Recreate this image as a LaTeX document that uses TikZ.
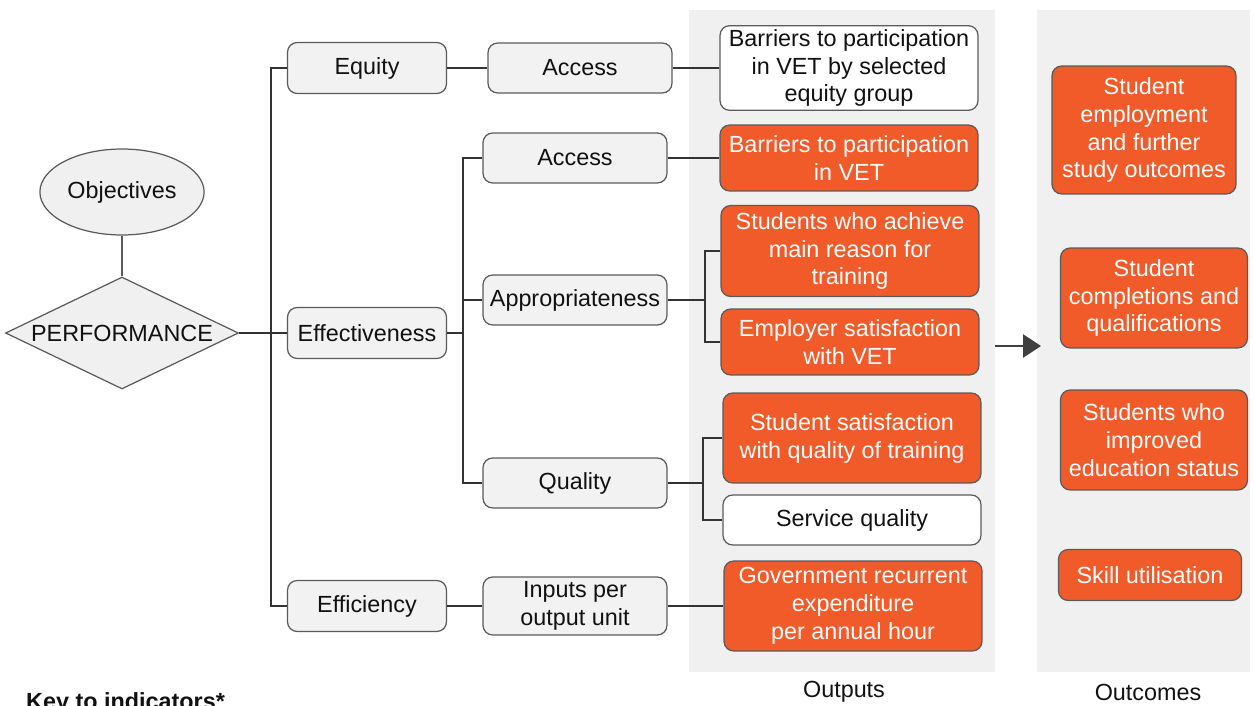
\documentclass[tikz,border=0pt]{standalone}
\usepackage{fontspec}
\setmainfont{Liberation Sans}
\usetikzlibrary{arrows.meta,positioning,calc,shapes.geometric}
\definecolor{Ink}{HTML}{111111}
\definecolor{Edge}{HTML}{5A5A5A}
\definecolor{Wire}{HTML}{333333}
\definecolor{Panel}{HTML}{F0F0F0}
\definecolor{Soft}{HTML}{F2F2F2}
\definecolor{Flame}{HTML}{F15A29}
\definecolor{Pointer}{HTML}{404040}
\tikzset{
  box/.style={draw=Edge,line width=0.7pt,rounded corners=5.5pt,align=center,inner sep=2pt,font=\fontsize{13.3}{15.9}\selectfont,text=Ink},
  graybox/.style={box,fill=Soft,minimum width=3.18cm,minimum height=1.02cm},
  midbox/.style={graybox,minimum width=3.68cm,minimum height=1cm},
  outbox/.style={box,fill=Flame,text=white,minimum width=5.16cm},
  whitebox/.style={box,fill=white,minimum width=5.16cm},
  endbox/.style={box,fill=Flame,text=white},
  panel/.style={fill=Panel,draw=none,minimum height=13.24cm},
  caption/.style={font=\fontsize{13.3}{15.9}\selectfont,text=Ink},
  link/.style={draw=Wire,line width=0.6pt},
  bigarrow/.style={-{Triangle[length=3.6mm,width=4.6mm]},line width=1.7pt,draw=Pointer}
}
\begin{document}
\begin{tikzpicture}[x=0.02cm,y=-0.02cm]
\useasboundingbox (0,0) rectangle (1254,706);
\node[panel,minimum width=6.12cm] (outpanel) at (842,341) {};
\node[panel,minimum width=4.26cm] (endpanel) at (1143.5,341) {};
\node[caption] (outlabel) at (844,692) {Outputs};
\node[caption] (endlabel) at (1148,692) {Outcomes};
\node[caption,font=\fontsize{13.3}{15.9}\selectfont\bfseries,anchor=west] (key) at (20,703) {Key to indicators*};

\node[box,ellipse,fill=Panel,minimum width=3.26cm,minimum height=1.72cm,rounded corners=0pt] (obj) at (122,192) {Objectives};
\node[box,diamond,fill=Panel,minimum width=4.66cm,minimum height=2.24cm,inner sep=0pt,aspect=2.08,rounded corners=0pt] (perf) at (122,333) {PERFORMANCE};

\node[graybox] (equity) at (367,68) {Equity};
\node[graybox] (eff) at (367,333) {Effectiveness};
\node[graybox] (effic) at (367,606) {Efficiency};

\node[midbox] (acc1) at (580,68) {Access};
\node[midbox] (acc2) at (575,158) {Access};
\node[midbox] (appr) at (575,300) {Appropriateness};
\node[midbox] (qual) at (575,483) {Quality};
\node[midbox,minimum height=1.16cm] (inp) at (575,606) {Inputs per\\output unit};

\node[whitebox,minimum height=1.66cm] (bar1) at (849,68) {Barriers to participation\\in VET by selected\\equity group};
\node[outbox,minimum height=1.32cm] (bar2) at (849,158) {Barriers to participation\\in VET};
\node[outbox,minimum height=1.82cm] (ach) at (850,251) {Students who achieve\\main reason for\\training};
\node[outbox,minimum height=1.32cm] (emp) at (850,342) {Employer satisfaction\\with VET};
\node[outbox,minimum height=1.8cm] (sat) at (852,438) {Student satisfaction\\with quality of training};
\node[whitebox,minimum height=1cm] (serv) at (852,520) {Service quality};
\node[outbox,minimum height=1.8cm] (gov) at (853,606) {Government recurrent\\expenditure\\per annual hour};

\node[endbox,minimum width=3.68cm,minimum height=2.56cm] (job) at (1144,130) {Student\\employment\\and further\\study outcomes};
\node[endbox,minimum width=3.74cm,minimum height=2cm] (comp) at (1154,298) {Student\\completions and\\qualifications};
\node[endbox,minimum width=3.74cm,minimum height=2cm] (edu) at (1154,440) {Students who\\improved\\education status};
\node[endbox,minimum width=3.66cm,minimum height=1.02cm] (skill) at (1150,575) {Skill utilisation};

\coordinate (t1) at (271,333);
\coordinate (t2) at (463,333);
\coordinate (t3) at (705,300);
\coordinate (t4) at (703,483);
\coordinate (a1) at (995,346);
\coordinate (a2) at (1041,346);

\draw[link,draw=Edge] (obj) -- (perf);
\draw[link] (perf.east) -- (eff.west);
\draw[link] (equity.west) -| (t1) |- (effic.west);
\draw[link] (equity) -- (acc1);
\draw[link] (acc1) -- (bar1);
\draw[link] (eff.east) -- (t2);
\draw[link] (acc2.west) -| (t2) |- (qual.west);
\draw[link] (appr.west) -- (t2 |- appr.west);
\draw[link] (effic) -- (inp);
\draw[link] (acc2) -- (bar2);
\draw[link] (appr.east) -- (t3);
\draw[link] (ach.west) -| (t3) |- (emp.west);
\draw[link] (qual.east) -- (t4);
\draw[link] (sat.west) -| (t4) |- (serv.west);
\draw[link] (inp) -- (gov);
\draw[bigarrow] (a1) -- (a2);
\end{tikzpicture}
\end{document}
